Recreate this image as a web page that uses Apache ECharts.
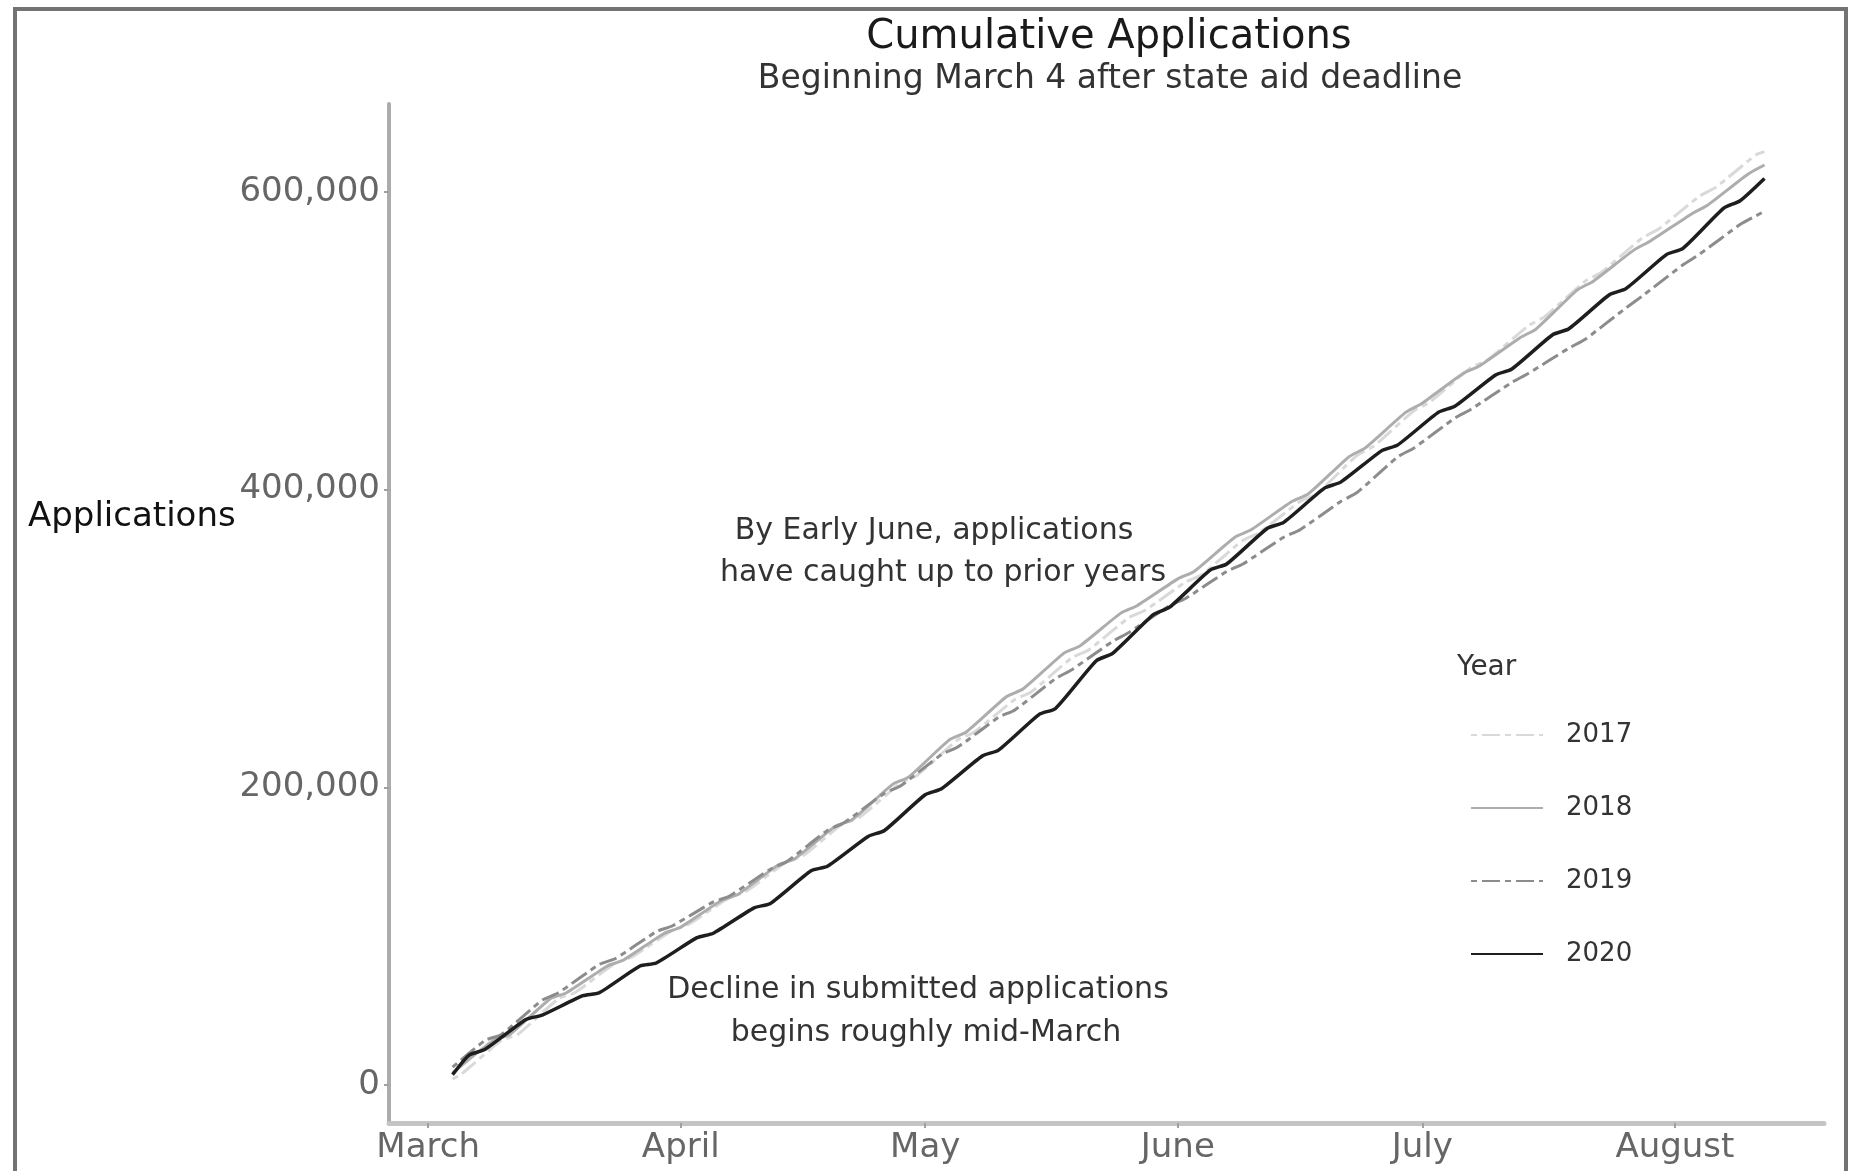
<!DOCTYPE html>
<html>
<head>
<meta charset="utf-8">
<title>Cumulative Applications</title>
<script src="https://cdn.jsdelivr.net/npm/echarts@6/dist/echarts.min.js"></script>
<style>
  html, body { margin: 0; padding: 0; background: #fff; }
  #chart { width: 1857px; height: 1171px; }
</style>
</head>
<body>
<div id="chart"></div>
<script>
  // x = days counted from March 1 (March 4 = 3), y = applications in thousands
  const monthStarts = [0, 31, 61, 92, 122, 153];
  const monthLabels = ['March', 'April', 'May', 'June', 'July', 'August'];
  const yTicks = [0, 200000, 400000, 600000];
  const years = ['2017', '2018', '2019', '2020'];

  const days2017 = [3, 4, 9, 11, 16, 18, 23, 25, 30, 32, 37, 39, 44, 46, 51, 53, 58, 60, 65, 67, 72, 74, 79, 81,
    86, 88, 93, 95, 100, 102, 107, 109, 114, 116, 121, 123, 128, 130, 135, 137, 142, 144, 149, 151, 156, 158, 163, 164];
  const apps2017 = [4, 7, 30, 34, 58, 62, 82, 86, 104, 108, 126, 130, 150, 154, 176, 180, 203, 208, 232, 237, 259, 264, 287, 292,
    314, 319, 338, 343, 366, 371, 392, 397, 423, 429, 453, 459, 482, 487, 510, 516, 540, 546, 569, 575, 597, 603, 625, 627];

  const days2018 = [3, 8, 10, 15, 17, 22, 24, 29, 31, 36, 38, 43, 45, 50, 52, 57, 59, 64, 66, 71, 73, 78, 80, 85,
    87, 92, 94, 99, 101, 106, 108, 113, 115, 120, 122, 127, 129, 134, 136, 141, 143, 148, 150, 155, 157, 162, 164];
  const apps2018 = [8, 30, 34, 58, 62, 80, 84, 102, 106, 124, 128, 148, 152, 174, 178, 202, 207, 232, 237, 261, 266, 290, 295, 317,
    322, 340, 345, 368, 373, 392, 397, 422, 428, 452, 458, 478, 483, 502, 508, 534, 540, 561, 567, 585, 591, 612, 618];

  const days2019 = [3, 7, 9, 14, 16, 21, 23, 28, 30, 35, 37, 42, 44, 49, 51, 56, 58, 63, 65, 70, 72, 77, 79, 84,
    86, 91, 93, 98, 100, 105, 107, 112, 114, 119, 121, 126, 128, 133, 135, 140, 142, 147, 149, 154, 156, 161, 163, 164];
  const apps2019 = [12, 30, 34, 57, 62, 81, 85, 103, 107, 123, 127, 145, 150, 171, 176, 196, 201, 222, 227, 247, 252, 273, 279, 298,
    304, 322, 327, 345, 350, 368, 373, 392, 398, 422, 428, 448, 454, 472, 478, 495, 501, 522, 530, 551, 558, 578, 584, 587];

  const days2020 = [3, 5, 7, 12, 14, 19, 21, 26, 28, 33, 35, 40, 42, 47, 49, 54, 56, 61, 63, 68, 70, 75, 77, 82,
    84, 89, 91, 96, 98, 103, 105, 110, 112, 117, 119, 124, 126, 131, 133, 138, 140, 145, 147, 152, 154, 159, 161, 164];
  const apps2020 = [7, 20, 24, 44, 47, 60, 62, 80, 82, 99, 102, 119, 122, 144, 147, 167, 171, 195, 199, 221, 225, 249, 253, 285,
    290, 316, 321, 346, 350, 374, 378, 401, 405, 426, 430, 452, 456, 477, 481, 504, 508, 531, 535, 558, 562, 589, 594, 609];

  const FONT = 'DejaVu Sans';

  function pairs(days, apps) {
    return days.map((d, i) => [d, apps[i] * 1000]);
  }
  function commas(v) {
    return String(v).replace(/\B(?=(\d{3})+(?!\d))/g, ',');
  }
  function label(text, x, y, size, color, align) {
    return {
      type: 'text', x: x, y: y, silent: true,
      style: {
        text: text, fontSize: size, fontFamily: FONT, fill: color,
        align: align || 'center', textAlign: align || 'center',
        verticalAlign: 'middle', textVerticalAlign: 'middle'
      }
    };
  }

  const lineDefs = [
    { name: '2017', data: pairs(days2017, apps2017), color: '#d9d9d9', width: 3, type: [6, 5, 18, 5] },
    { name: '2018', data: pairs(days2018, apps2018), color: '#adadad', width: 3, type: 'solid' },
    { name: '2019', data: pairs(days2019, apps2019), color: '#8c8c8c', width: 3, type: [6, 5, 18, 5] },
    { name: '2020', data: pairs(days2020, apps2020), color: '#1e1e1e', width: 3.5, type: 'solid' }
  ];

  const chart = echarts.init(document.getElementById('chart'));
  chart.setOption({
    backgroundColor: '#fff',
    animation: false,
    grid: { left: 389, right: 33, top: 104, bottom: 48 },
    xAxis: {
      type: 'value',
      min: -4.8,
      max: 171.3,
      splitLine: { show: false },
      axisLine: { onZero: false, lineStyle: { color: '#c4c4c4', width: 5 } },
      axisTick: { customValues: monthStarts, length: 5, lineStyle: { color: '#a0a0a0', width: 2 } },
      axisLabel: {
        customValues: monthStarts,
        formatter: v => monthLabels[monthStarts.indexOf(v)],
        fontSize: 34, fontFamily: FONT, color: '#666', margin: 8
      }
    },
    yAxis: {
      type: 'value',
      min: -25500,
      max: 659000,
      splitLine: { show: false },
      axisLine: { show: true, onZero: false, lineStyle: { color: '#acacac', width: 4 } },
      axisTick: { show: true, customValues: yTicks, length: 5, lineStyle: { color: '#a0a0a0', width: 2 } },
      axisLabel: {
        customValues: yTicks,
        formatter: v => commas(v),
        fontSize: 34, fontFamily: FONT, color: '#666', margin: 9
      }
    },
    legend: {
      orient: 'vertical',
      left: 1465,
      top: 717,
      itemWidth: 72,
      itemHeight: 26,
      itemGap: 47,
      data: years,
      itemStyle: { opacity: 0 },
      textStyle: { fontSize: 26, fontFamily: FONT, color: '#333', padding: [0, 0, 0, 18] }
    },
    series: lineDefs.map(s => ({
      name: s.name,
      type: 'line',
      data: s.data,
      symbol: 'none',
      smooth: 0.2,
      itemStyle: { color: s.color },
      lineStyle: { color: s.color, width: s.width, type: s.type },
      emphasis: { disabled: true }
    })),
    graphic: [
      {
        type: 'polyline', silent: true,
        shape: { points: [[15, 1175], [15, 9], [1846, 9], [1846, 1175]] },
        style: { stroke: '#737373', lineWidth: 4, fill: null }
      },
      label('Cumulative Applications', 1109, 38, 40, '#1a1a1a'),
      label('Beginning March 4 after state aid deadline', 1110, 79, 33, '#333'),
      label('Applications', 28, 517, 34, '#111', 'left'),
      label('By Early June, applications', 934, 531, 30, '#333'),
      label('have caught up to prior years', 943, 573, 30, '#333'),
      label('Decline in submitted applications', 918, 990, 30, '#333'),
      label('begins roughly mid-March', 926, 1033, 30, '#333'),
      label('Year', 1457, 668, 28, '#333', 'left')
    ]
  });
</script>
</body>
</html>
